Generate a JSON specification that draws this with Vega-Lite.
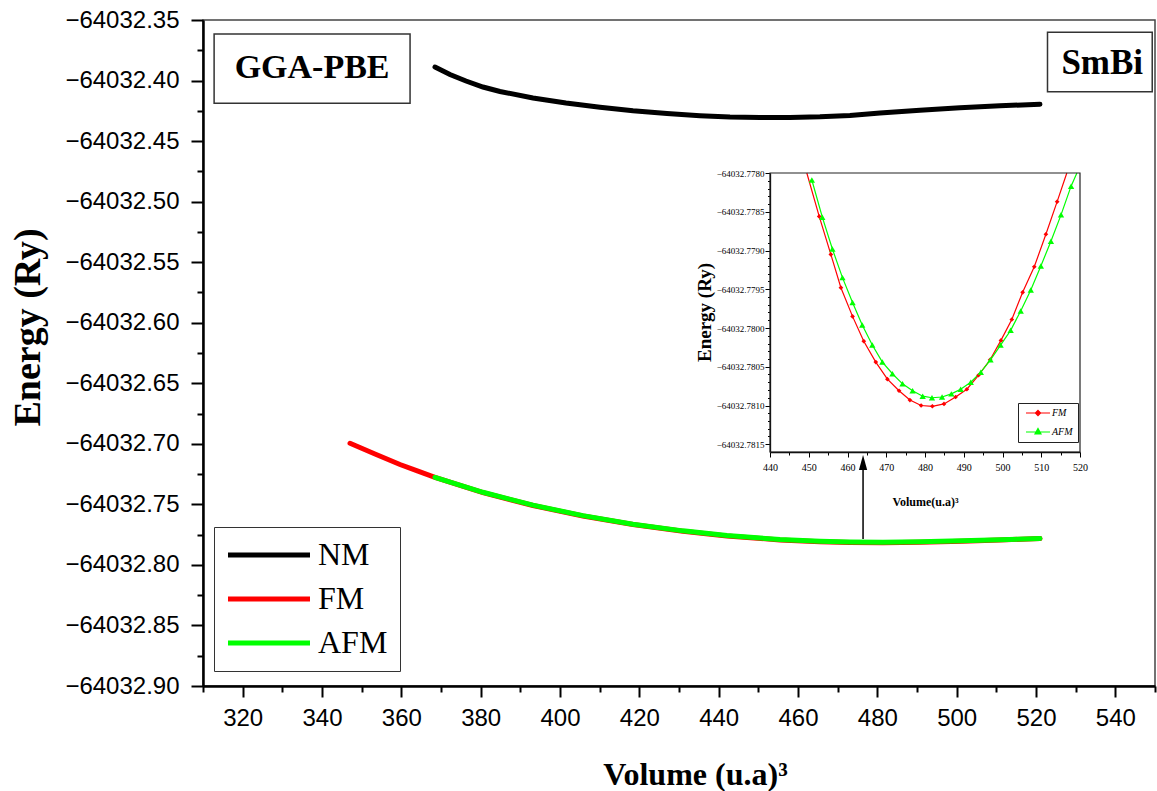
{
  "$schema": "https://vega.github.io/schema/vega-lite/v6.json",
  "width": 952,
  "height": 666,
  "autosize": {"type": "none"},
  "padding": {"left": 203, "top": 20, "right": 2, "bottom": 105},
  "background": "white",
  "config": {
    "view": {"stroke": "#444", "strokeWidth": 1.5},
    "axis": {"grid": false}
  },
  "datasets": {
    "main": [
      {"s": "NM", "V": 368.48, "E": -64032.38881},
      {"s": "NM", "V": 372.26, "E": -64032.395},
      {"s": "NM", "V": 376.3, "E": -64032.40037},
      {"s": "NM", "V": 380.58, "E": -64032.40533},
      {"s": "NM", "V": 384.87, "E": -64032.40904},
      {"s": "NM", "V": 393.19, "E": -64032.41441},
      {"s": "NM", "V": 401.51, "E": -64032.41854},
      {"s": "NM", "V": 410.08, "E": -64032.42209},
      {"s": "NM", "V": 418.4, "E": -64032.42498},
      {"s": "NM", "V": 426.97, "E": -64032.42729},
      {"s": "NM", "V": 435.29, "E": -64032.42903},
      {"s": "NM", "V": 442.85, "E": -64032.4301},
      {"s": "NM", "V": 450.41, "E": -64032.43051},
      {"s": "NM", "V": 457.97, "E": -64032.43043},
      {"s": "NM", "V": 465.53, "E": -64032.42993},
      {"s": "NM", "V": 473.1, "E": -64032.42886},
      {"s": "NM", "V": 480.66, "E": -64032.4268},
      {"s": "NM", "V": 490.74, "E": -64032.42448},
      {"s": "NM", "V": 500.83, "E": -64032.42242},
      {"s": "NM", "V": 510.91, "E": -64032.42085},
      {"s": "NM", "V": 521.0, "E": -64032.41961},
      {"s": "FM", "V": 347.06, "E": -64032.69955},
      {"s": "FM", "V": 353.36, "E": -64032.70838},
      {"s": "FM", "V": 359.66, "E": -64032.71706},
      {"s": "FM", "V": 364.2, "E": -64032.72258},
      {"s": "FM", "V": 368.48, "E": -64032.72762},
      {"s": "FM", "V": 380.58, "E": -64032.74031},
      {"s": "FM", "V": 393.19, "E": -64032.75096},
      {"s": "FM", "V": 405.79, "E": -64032.75963},
      {"s": "FM", "V": 418.4, "E": -64032.76665},
      {"s": "FM", "V": 431.0, "E": -64032.77218},
      {"s": "FM", "V": 442.09, "E": -64032.77606},
      {"s": "FM", "V": 455.45, "E": -64032.77937},
      {"s": "FM", "V": 465.53, "E": -64032.78085},
      {"s": "FM", "V": 473.1, "E": -64032.78143},
      {"s": "FM", "V": 481.41, "E": -64032.7816},
      {"s": "FM", "V": 490.74, "E": -64032.78127},
      {"s": "FM", "V": 501.33, "E": -64032.78044},
      {"s": "FM", "V": 510.91, "E": -64032.77943},
      {"s": "FM", "V": 521.0, "E": -64032.77826},
      {"s": "AFM", "V": 368.48, "E": -64032.72762},
      {"s": "AFM", "V": 380.58, "E": -64032.74001},
      {"s": "AFM", "V": 393.19, "E": -64032.75066},
      {"s": "AFM", "V": 405.79, "E": -64032.75933},
      {"s": "AFM", "V": 418.4, "E": -64032.76635},
      {"s": "AFM", "V": 431.0, "E": -64032.77188},
      {"s": "AFM", "V": 442.09, "E": -64032.77576},
      {"s": "AFM", "V": 455.45, "E": -64032.77907},
      {"s": "AFM", "V": 465.53, "E": -64032.78055},
      {"s": "AFM", "V": 473.1, "E": -64032.78113},
      {"s": "AFM", "V": 481.41, "E": -64032.7813},
      {"s": "AFM", "V": 490.74, "E": -64032.78097},
      {"s": "AFM", "V": 501.33, "E": -64032.78014},
      {"s": "AFM", "V": 510.91, "E": -64032.77923},
      {"s": "AFM", "V": 521.0, "E": -64032.77816}
    ],
    "inset": [
      {"s": "FM", "V": 449.5, "E": -64032.778, "m": false},
      {"s": "FM", "V": 452.7, "E": -64032.77856, "m": true},
      {"s": "FM", "V": 455.7, "E": -64032.77905, "m": true},
      {"s": "FM", "V": 458.3, "E": -64032.77948, "m": true},
      {"s": "FM", "V": 461.3, "E": -64032.77985, "m": true},
      {"s": "FM", "V": 464.2, "E": -64032.78017, "m": true},
      {"s": "FM", "V": 467.3, "E": -64032.78044, "m": true},
      {"s": "FM", "V": 470.3, "E": -64032.78066, "m": true},
      {"s": "FM", "V": 473.3, "E": -64032.78081, "m": true},
      {"s": "FM", "V": 476.1, "E": -64032.78093, "m": true},
      {"s": "FM", "V": 479.0, "E": -64032.781, "m": true},
      {"s": "FM", "V": 481.9, "E": -64032.78101, "m": true},
      {"s": "FM", "V": 484.9, "E": -64032.78098, "m": true},
      {"s": "FM", "V": 487.9, "E": -64032.78089, "m": true},
      {"s": "FM", "V": 490.8, "E": -64032.78079, "m": true},
      {"s": "FM", "V": 493.8, "E": -64032.78061, "m": true},
      {"s": "FM", "V": 496.8, "E": -64032.78041, "m": true},
      {"s": "FM", "V": 499.6, "E": -64032.78016, "m": true},
      {"s": "FM", "V": 502.4, "E": -64032.77989, "m": true},
      {"s": "FM", "V": 505.2, "E": -64032.77954, "m": true},
      {"s": "FM", "V": 508.2, "E": -64032.77921, "m": true},
      {"s": "FM", "V": 511.2, "E": -64032.77879, "m": true},
      {"s": "FM", "V": 514.1, "E": -64032.77837, "m": true},
      {"s": "FM", "V": 516.6, "E": -64032.778, "m": false},
      {"s": "AFM", "V": 450.8, "E": -64032.77809, "m": true},
      {"s": "AFM", "V": 453.5, "E": -64032.77857, "m": true},
      {"s": "AFM", "V": 456.1, "E": -64032.77898, "m": true},
      {"s": "AFM", "V": 458.7, "E": -64032.77935, "m": true},
      {"s": "AFM", "V": 461.3, "E": -64032.77967, "m": true},
      {"s": "AFM", "V": 463.8, "E": -64032.77996, "m": true},
      {"s": "AFM", "V": 466.4, "E": -64032.78022, "m": true},
      {"s": "AFM", "V": 469.0, "E": -64032.78044, "m": true},
      {"s": "AFM", "V": 471.6, "E": -64032.78059, "m": true},
      {"s": "AFM", "V": 474.2, "E": -64032.78072, "m": true},
      {"s": "AFM", "V": 476.8, "E": -64032.78081, "m": true},
      {"s": "AFM", "V": 479.4, "E": -64032.78088, "m": true},
      {"s": "AFM", "V": 481.8, "E": -64032.7809, "m": true},
      {"s": "AFM", "V": 484.4, "E": -64032.78089, "m": true},
      {"s": "AFM", "V": 486.8, "E": -64032.78085, "m": true},
      {"s": "AFM", "V": 489.2, "E": -64032.78079, "m": true},
      {"s": "AFM", "V": 491.8, "E": -64032.7807, "m": true},
      {"s": "AFM", "V": 494.4, "E": -64032.78057, "m": true},
      {"s": "AFM", "V": 496.9, "E": -64032.78041, "m": true},
      {"s": "AFM", "V": 499.5, "E": -64032.78022, "m": true},
      {"s": "AFM", "V": 502.1, "E": -64032.78003, "m": true},
      {"s": "AFM", "V": 504.7, "E": -64032.77978, "m": true},
      {"s": "AFM", "V": 507.3, "E": -64032.77951, "m": true},
      {"s": "AFM", "V": 509.9, "E": -64032.7792, "m": true},
      {"s": "AFM", "V": 512.5, "E": -64032.77888, "m": true},
      {"s": "AFM", "V": 515.1, "E": -64032.77854, "m": true},
      {"s": "AFM", "V": 517.7, "E": -64032.77817, "m": true},
      {"s": "AFM", "V": 519.2, "E": -64032.778, "m": false}
    ]
  },
  "layer": [
    {
      "layer": [
        {
          "data": {"name": "main"},
          "mark": {"type": "line", "strokeWidth": 5, "strokeCap": "round", "clip": true},
          "encoding": {
            "x": {
              "field": "V", "type": "quantitative",
              "scale": {"domain": [310, 550], "nice": false, "zero": false},
              "axis": {
                "orient": "bottom",
                "values": [320, 340, 360, 380, 400, 420, 440, 460, 480, 500, 520, 540],
                "format": "d",
                "tickSize": 11, "tickWidth": 2, "tickColor": "#000",
                "domainColor": "#000", "domainWidth": 2.5,
                "labelFont": "Liberation Sans", "labelFontSize": 24, "labelColor": "#000",
                "labelPadding": 9, "labelOverlap": false, "labelFlush": false, "labelBound": false,
                "title": "Volume (u.a)³",
                "titleFont": "Liberation Serif", "titleFontSize": 32, "titleFontWeight": "bold", "titleColor": "#000",
                "titleX": 492, "titleY": 98, "titleBaseline": "alphabetic", "titleAlign": "center"
              }
            },
            "y": {
              "field": "E", "type": "quantitative",
              "scale": {"domain": [-64032.9, -64032.35], "nice": false, "zero": false},
              "axis": {
                "orient": "left",
                "values": [-64032.9, -64032.85, -64032.8, -64032.75, -64032.7, -64032.65, -64032.6, -64032.55, -64032.5, -64032.45, -64032.4, -64032.35],
                "format": ".2f",
                "tickSize": 12, "tickWidth": 2, "tickColor": "#000",
                "domainColor": "#000", "domainWidth": 2.5,
                "labelFont": "Liberation Sans", "labelFontSize": 24, "labelColor": "#000",
                "labelPadding": 12, "labelOverlap": false, "labelFlush": false, "labelBound": false,
                "title": "Energy (Ry)",
                "titleFont": "Liberation Serif", "titleFontSize": 38, "titleFontWeight": "bold", "titleColor": "#000",
                "titleX": -164, "titleY": 307, "titleBaseline": "alphabetic", "titleAngle": 270, "titleAlign": "center"
              }
            },
            "color": {
              "field": "s", "type": "nominal",
              "scale": {"domain": ["NM", "FM", "AFM"], "range": ["#000000", "#ff0000", "#00ff00"]},
              "legend": {
                "orient": "none", "legendX": 11, "legendY": 507, "title": null,
                "symbolType": "M-2.8,0H13.6", "symbolSize": 100, "symbolStrokeWidth": 5,
                "labelFont": "Liberation Serif", "labelFontSize": 32, "labelColor": "#000",
                "labelOffset": 60, "rowPadding": 12, "padding": 12, "labelLimit": 300,
                "strokeColor": "#333", "fillColor": "white"
              }
            }
          }
        },
        {
          "data": {"values": [{"label": "GGA-PBE"}]},
          "mark": {"type": "rect", "fill": "white", "stroke": "#333", "strokeWidth": 1.5},
          "encoding": {
            "x": {
              "datum": 312.8,
              "axis": {
                "orient": "bottom", "values": [310, 330, 350, 370, 390, 410, 430, 450, 470, 490, 510, 530, 550],
                "labels": false, "domain": false, "title": null,
                "tickSize": 6, "tickWidth": 2, "tickColor": "#000"
              }
            },
            "x2": {"datum": 362.2},
            "y": {
              "datum": -64032.3616,
              "axis": {
                "orient": "left", "values": [-64032.875, -64032.825, -64032.775, -64032.725, -64032.675, -64032.625, -64032.575, -64032.525, -64032.475, -64032.425, -64032.375],
                "labels": false, "domain": false, "title": null,
                "tickSize": 6, "tickWidth": 2, "tickColor": "#000"
              }
            },
            "y2": {"datum": -64032.4188}
          }
        },
        {
          "data": {"values": [{"label": "GGA-PBE"}]},
          "mark": {"type": "text", "font": "Liberation Serif", "fontSize": 34, "fontWeight": "bold", "color": "#000", "align": "center", "baseline": "middle"},
          "encoding": {
            "x": {"datum": 337.5, "axis": null}, "y": {"datum": -64032.3899, "axis": null},
            "text": {"field": "label"}
          }
        },
        {
          "data": {"values": [{"label": "SmBi"}]},
          "mark": {"type": "rect", "fill": "white", "stroke": "#333", "strokeWidth": 1.5},
          "encoding": {
            "x": {"datum": 522.9, "axis": null}, "x2": {"datum": 549.3},
            "y": {"datum": -64032.3602, "axis": null}, "y2": {"datum": -64032.4092}
          }
        },
        {
          "data": {"values": [{"label": "SmBi"}]},
          "mark": {"type": "text", "font": "Liberation Serif", "fontSize": 35, "fontWeight": "bold", "color": "#000", "align": "center", "baseline": "middle"},
          "encoding": {
            "x": {"datum": 536.7, "axis": null}, "y": {"datum": -64032.3851, "axis": null},
            "text": {"field": "label"}
          }
        },
        {
          "data": {"values": [{"label": "arrow"}]},
          "mark": {"type": "rule", "color": "#000", "strokeWidth": 1.5},
          "encoding": {
            "x": {"datum": 476.4, "axis": null},
            "y": {"datum": -64032.7786, "axis": null}, "y2": {"datum": -64032.7154}
          }
        },
        {
          "data": {"values": [{"label": "arrow"}]},
          "mark": {"type": "point", "shape": "M0,-1L0.55,1H-0.55Z", "size": 225, "filled": true, "color": "#000", "opacity": 1},
          "encoding": {
            "x": {"datum": 476.4, "axis": null}, "y": {"datum": -64032.7154, "axis": null}
          }
        }
      ],
      "resolve": {"axis": {"x": "independent", "y": "independent"}}
    },
    {
      "layer": [
        {
          "data": {"name": "inset"},
          "mark": {"type": "line", "strokeWidth": 1.2},
          "encoding": {
            "x": {
              "field": "V", "type": "quantitative",
              "scale": {"domain": [440, 520], "range": [567, 877], "nice": false, "zero": false},
              "axis": {
                "orient": "bottom", "offset": -234,
                "values": [440, 450, 460, 470, 480, 490, 500, 510, 520],
                "format": "d",
                "tickSize": 5, "tickWidth": 1, "tickColor": "#000",
                "domainColor": "#000", "domainWidth": 1.3,
                "labelFont": "Liberation Serif", "labelFontSize": 10, "labelColor": "#000",
                "labelPadding": 5, "labelOverlap": false, "labelFlush": false, "labelBound": false,
                "title": "Volume(u.a)³",
                "titleFont": "Liberation Serif", "titleFontSize": 12, "titleFontWeight": "bold", "titleColor": "#000",
                "titleX": 722, "titleY": 53, "titleBaseline": "alphabetic", "titleAlign": "center"
              }
            },
            "y": {
              "field": "E", "type": "quantitative",
              "scale": {"domain": [-64032.7816, -64032.778], "range": [432, 153], "nice": false, "zero": false},
              "axis": {
                "orient": "left", "offset": -567,
                "values": [-64032.7815, -64032.781, -64032.7805, -64032.78, -64032.7795, -64032.779, -64032.7785, -64032.778],
                "format": ".4f",
                "tickSize": 5, "tickWidth": 1, "tickColor": "#000",
                "domainColor": "#000", "domainWidth": 1.3,
                "labelFont": "Liberation Serif", "labelFontSize": 9, "labelColor": "#000",
                "labelPadding": 1, "labelOverlap": false, "labelFlush": false, "labelBound": false,
                "title": "Energy (Ry)",
                "titleFont": "Liberation Serif", "titleFontSize": 19, "titleFontWeight": "bold", "titleColor": "#000",
                "titleX": -60, "titleY": 292, "titleBaseline": "alphabetic", "titleAngle": 270, "titleAlign": "center"
              }
            },
            "color": {
              "field": "s", "type": "nominal",
              "scale": {"domain": ["FM", "AFM"], "range": ["#ff0000", "#00ff00"]},
              "legend": {
                "orient": "none", "legendX": 815, "legendY": 383, "title": null,
                "symbolType": "M-1,0H11", "symbolSize": 16, "symbolStrokeWidth": 1.2,
                "labelFont": "Liberation Serif", "labelFontSize": 10, "labelFontStyle": "italic", "labelColor": "#000",
                "labelOffset": 19, "rowPadding": 8, "padding": 5,
                "strokeColor": "#222", "fillColor": "white",
                "encoding": {
                  "symbols": {
                    "shape": {"condition": {"test": "datum.value === 'FM'", "value": "M-1,0H11M5,-1.3L6.3,0L5,1.3L3.7,0Z"}, "value": "M-1,0H11M5,-1.7L6.5,1H3.5Z"},
                    "fill": {"condition": {"test": "datum.value === 'FM'", "value": "#ff0000"}, "value": "#00ff00"}
                  }
                }
              }
            }
          }
        },
        {
          "data": {"name": "inset"},
          "transform": [{"filter": "datum.m"}],
          "mark": {"type": "point", "filled": true, "opacity": 1},
          "encoding": {
            "x": {"field": "V", "type": "quantitative", "axis": null},
            "y": {"field": "E", "type": "quantitative", "axis": null},
            "color": {"field": "s", "type": "nominal", "legend": null},
            "shape": {"field": "s", "type": "nominal", "scale": {"domain": ["FM", "AFM"], "range": ["diamond", "triangle-up"]}, "legend": null},
            "size": {"field": "s", "type": "nominal", "scale": {"domain": ["FM", "AFM"], "range": [22, 40]}, "legend": null}
          }
        },
        {
          "data": {"values": [{"label": "frame"}]},
          "mark": {"type": "rect", "fill": "transparent", "stroke": "#222", "strokeWidth": 1.2},
          "encoding": {
            "x": {
              "datum": 440,
              "axis": {
                "orient": "bottom", "offset": -234,
                "values": [445, 455, 465, 475, 485, 495, 505, 515],
                "labels": false, "domain": false, "title": null,
                "tickSize": 3, "tickWidth": 1, "tickColor": "#000"
              }
            },
            "x2": {"datum": 520},
            "y": {
              "datum": -64032.7816,
              "axis": {
                "orient": "left", "offset": -567,
                "values": [-64032.7814, -64032.7813, -64032.7812, -64032.7811, -64032.7809, -64032.7808, -64032.7807, -64032.7806, -64032.7804, -64032.7803, -64032.7802, -64032.7801, -64032.7799, -64032.7798, -64032.7797, -64032.7796, -64032.7794, -64032.7793, -64032.7792, -64032.7791, -64032.7789, -64032.7788, -64032.7787, -64032.7786, -64032.7784, -64032.7783, -64032.7782, -64032.7781],
                "labels": false, "domain": false, "title": null,
                "tickSize": 2.5, "tickWidth": 1, "tickColor": "#000"
              }
            },
            "y2": {"datum": -64032.778}
          }
        }
      ],
      "resolve": {"axis": {"x": "independent", "y": "independent"}}
    }
  ],
  "resolve": {
    "scale": {"x": "independent", "y": "independent", "color": "independent"},
    "axis": {"x": "independent", "y": "independent"},
    "legend": {"color": "independent"}
  }
}
